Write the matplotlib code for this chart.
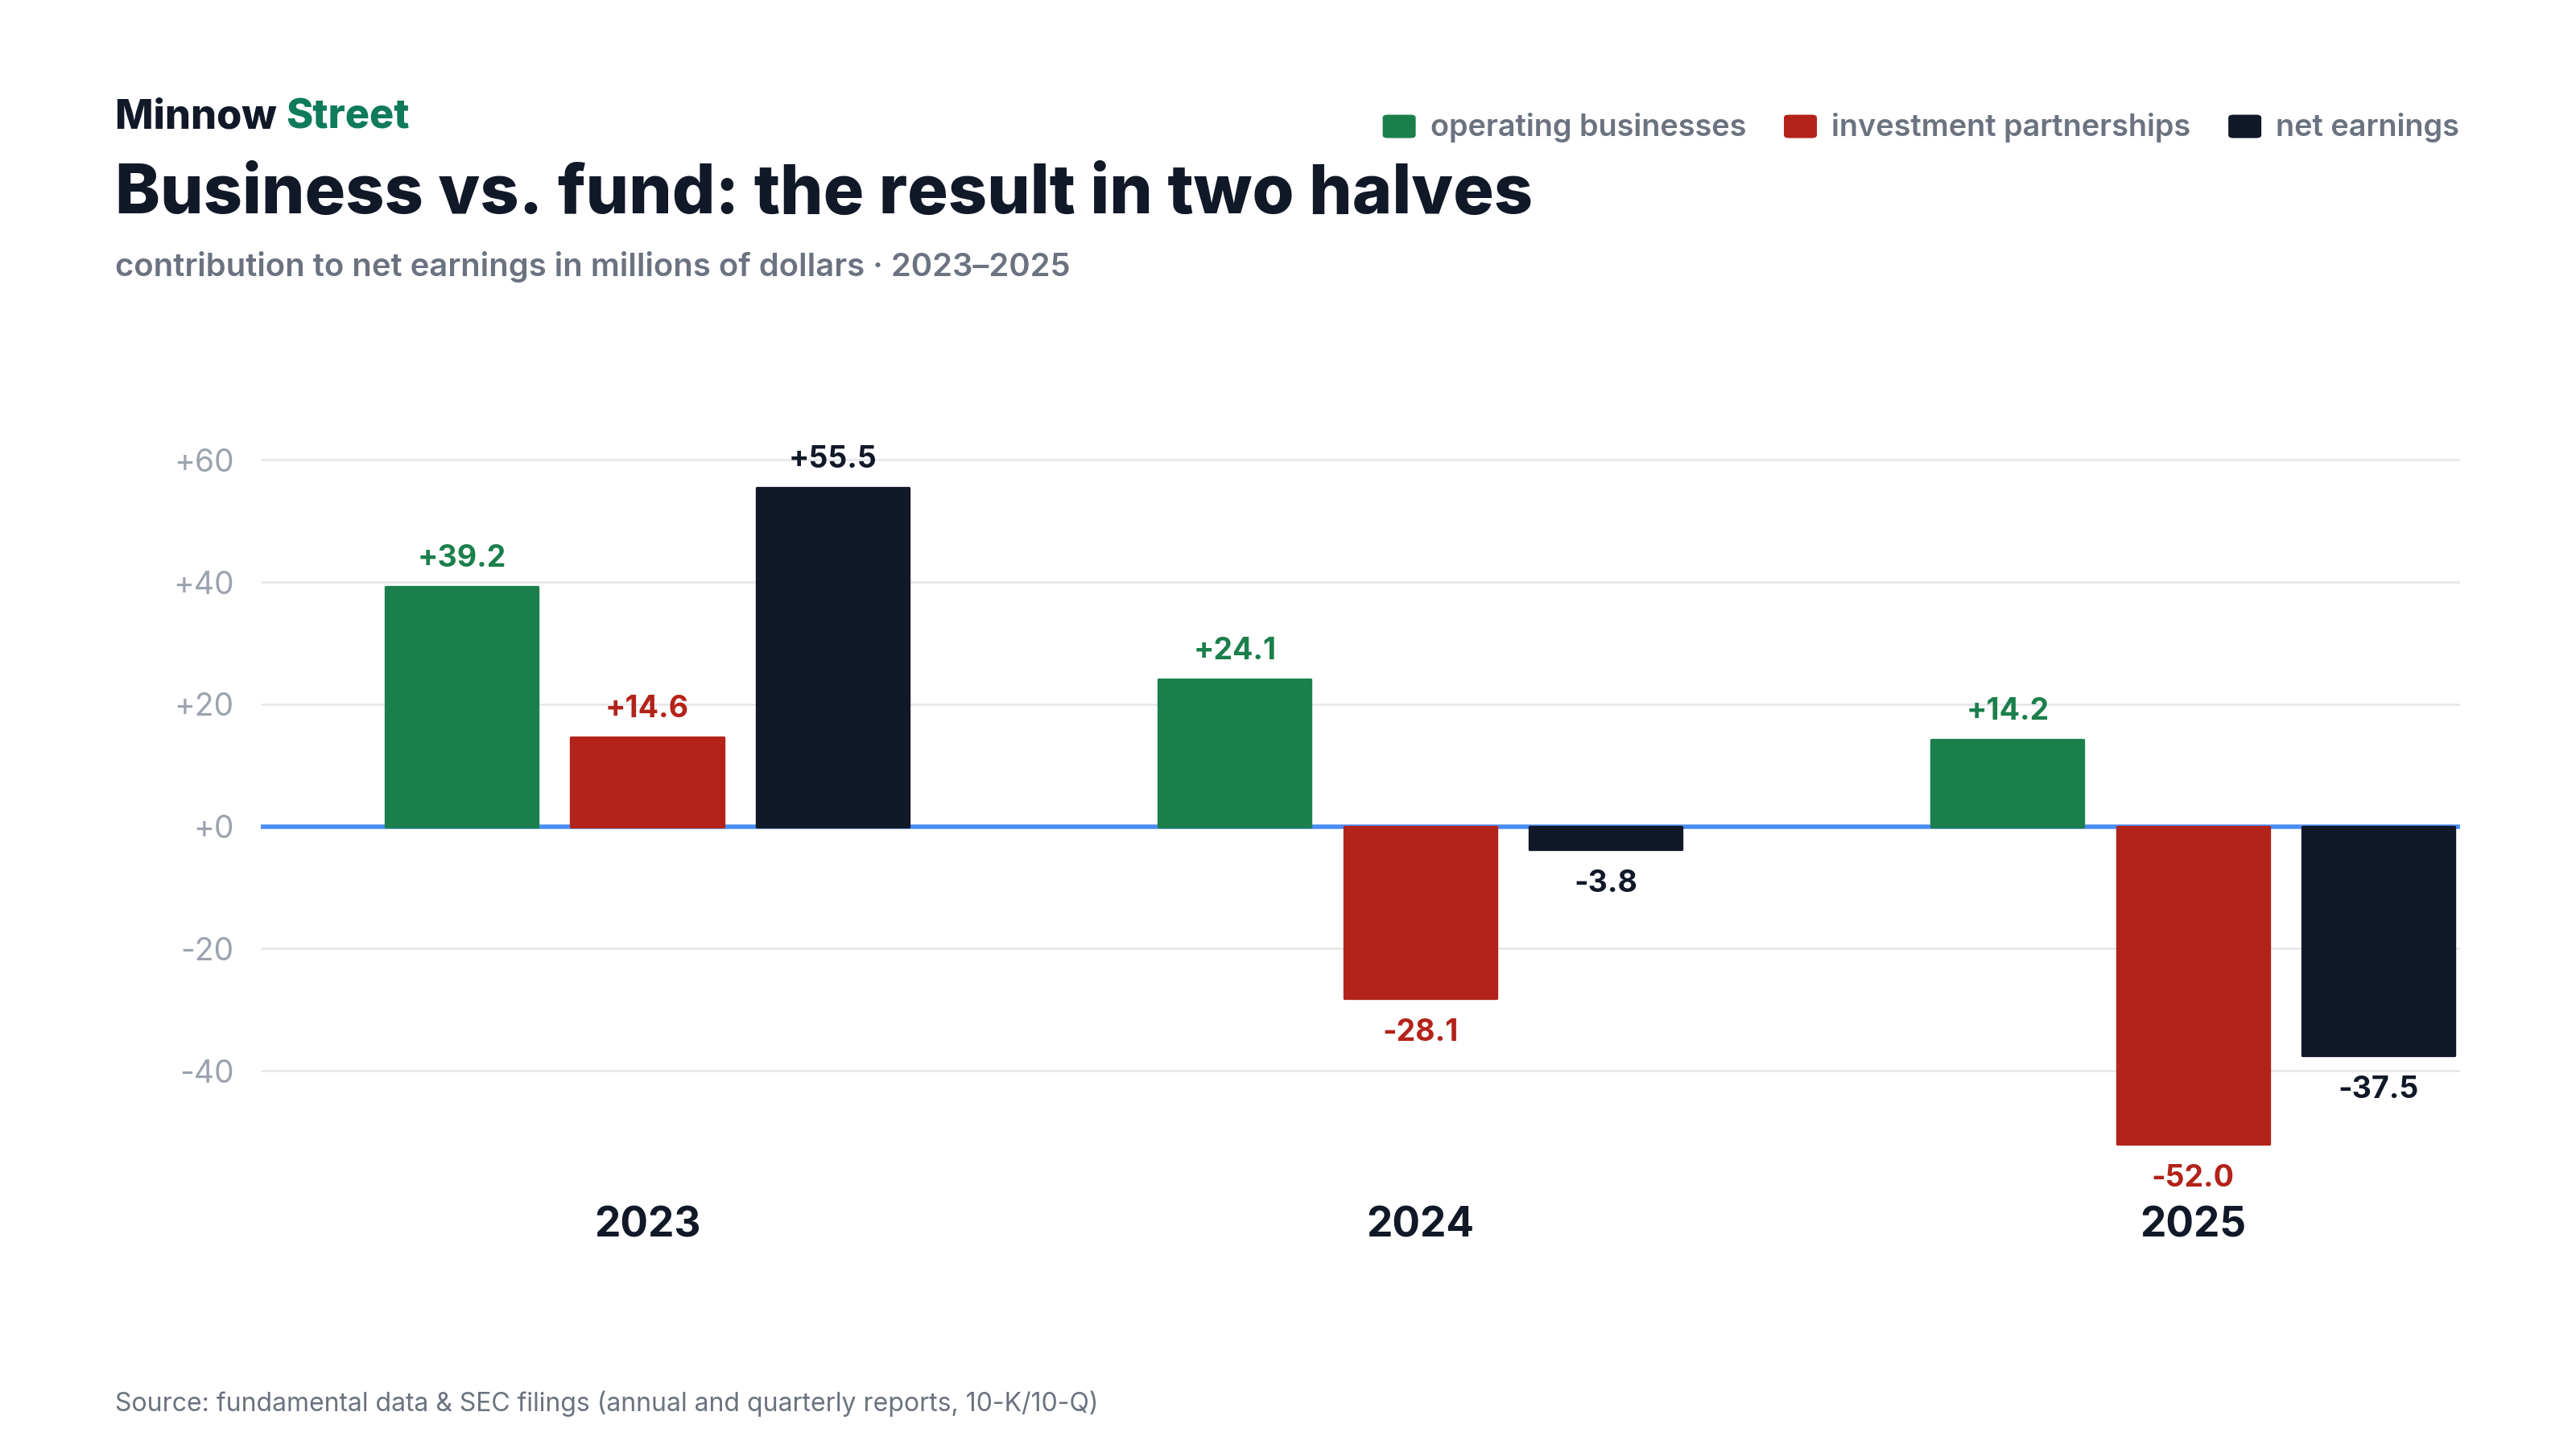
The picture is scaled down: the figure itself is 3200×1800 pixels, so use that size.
import matplotlib
matplotlib.use('Agg')
import matplotlib.pyplot as plt
from matplotlib.patches import FancyBboxPatch
import numpy as np

# ---- data ----
years = ['2023', '2024', '2025']
series_names = ['operating businesses', 'investment partnerships', 'net earnings']
operating = [39.2, 24.1, 14.2]
investment = [14.6, -28.1, -52.0]
net_earnings = [55.5, -3.8, -37.5]
y_ticks = [-40, -20, 0, 20, 40, 60]

GREEN = '#1b7f4c'
RED = '#b3231a'
DARK = '#111827'
BRAND_GREEN = '#0f7b5b'
GRAY_TXT = '#6b7280'
TICK_TXT = '#9ca3af'
GRID = '#e5e7eb'
ZERO = '#4b8df8'

plt.rcParams['font.family'] = ['Inter', 'DejaVu Sans']

W, H = 3200, 1800
fig = plt.figure(figsize=(16, 9), dpi=200)
fig.patch.set_facecolor('white')

def fx(px):
    return px / W

def fy(py):
    return 1 - py / H

# axes: left 326px, right 3055px, bottom 1482px, top 511px
ax = fig.add_axes([fx(324), fy(1481.8), fx(3055.5) - fx(324), (1481.8 - 510.7) / H])
ax.set_xlim(-0.5, 2.345)
ax.set_ylim(-60, 68)

x = np.arange(len(years))
width = 0.2
offsets = [-0.24, 0.0, 0.24]
colors = [GREEN, RED, DARK]
all_series = [operating, investment, net_earnings]

for vals, off, col in zip(all_series, offsets, colors):
    bars = ax.bar(x + off, vals, width * 0.985, color=col, edgecolor=col,
                  linewidth=1.2, joinstyle='round', zorder=3)
    for b, v in zip(bars, vals):
        cx = b.get_x() + b.get_width() / 2
        lbl = f'{v:+.1f}'
        if v >= 0:
            ax.annotate(lbl, (cx, v), xytext=(0, 12.5), textcoords='offset points',
                        ha='center', va='center', fontsize=13.5, fontweight='bold',
                        color=col, zorder=5)
        else:
            ax.annotate(lbl, (cx, v), xytext=(0, -15.5), textcoords='offset points',
                        ha='center', va='center', fontsize=13.5, fontweight='bold',
                        color=col, zorder=5)

# grid
for t in y_ticks:
    if t == 0:
        ax.axhline(0, color=ZERO, lw=2.0, zorder=2)
    else:
        ax.axhline(t, color=GRID, lw=0.9, zorder=1)

ax.set_yticks(y_ticks)
ax.set_yticklabels([f'{t:+d}' if t != 0 else '+0' for t in y_ticks])
ax.tick_params(axis='y', length=0, pad=12, labelsize=14, labelcolor=TICK_TXT)
ax.set_xticks(x)
ax.set_xticklabels(years)
ax.tick_params(axis='x', length=0, pad=6, labelsize=18.5, labelcolor=DARK)
for lab in ax.get_xticklabels():
    lab.set_fontweight('bold')
for s in ax.spines.values():
    s.set_visible(False)
ax.set_facecolor('none')

renderer = fig.canvas.get_renderer()

def width_px(t):
    return t.get_window_extent(renderer=renderer).width

def fit(t, target):
    w = width_px(t)
    t.set_fontsize(t.get_fontsize() * target / w)

# brand
b1 = fig.text(fx(143), fy(160), 'Minnow ', fontsize=20, fontweight='heavy', color=DARK, va='baseline')
b2_probe = fig.text(0, 0, 'Minnow Street', fontsize=20, fontweight='heavy')
scale = 365 / width_px(b2_probe)
b2_probe.remove()
b1.set_fontsize(20 * scale)
b2 = fig.text(fx(143 + width_px(b1)), fy(160), 'Street', fontsize=20 * scale,
              fontweight='heavy', color=BRAND_GREEN, va='baseline')

# title
title = fig.text(fx(143), fy(265), 'Business vs. fund: the result in two halves',
                 fontsize=32, fontweight='heavy', color=DARK, va='baseline')
fit(title, 1760)

# subtitle
sub = fig.text(fx(143), fy(343), 'contribution to net earnings in millions of dollars \u00b7 2023\u20132025',
               fontsize=14, fontweight='semibold', color=GRAY_TXT, va='baseline')
fit(sub, 1186)

# source
src = fig.text(fx(143), fy(1753), 'Source: fundamental data & SEC filings (annual and quarterly reports, 10-K/10-Q)',
               fontsize=12.5, color=GRAY_TXT, va='baseline')
fit(src, 1223)

# legend (right aligned at 3055)
leg_fs = 13.5
sq_w, sq_h = 41, 29
gap_sq_txt = 18
gap_item = 47
right = 3055
texts = []
for name in series_names:
    t = fig.text(0, 0, name, fontsize=leg_fs, fontweight='semibold', color=GRAY_TXT, va='baseline')
    texts.append(t)
txt_total = sum(width_px(t) for t in texts)
target_txt = (3055 - 1716) - 3 * (sq_w + gap_sq_txt) - 2 * gap_item
for t in texts:
    t.set_fontsize(leg_fs * target_txt / txt_total)
cur = right
for name, t, col in reversed(list(zip(series_names, texts, colors))):
    tw = width_px(t)
    t.set_position((fx(cur - tw), fy(169)))
    cur -= tw + gap_sq_txt
    sq = FancyBboxPatch((fx(cur - sq_w), fy(157 + sq_h / 2)), fx(sq_w), sq_h / H,
                        boxstyle='round,pad=0,rounding_size=0.002', transform=fig.transFigure,
                        facecolor=col, edgecolor='none')
    fig.patches.append(sq)
    cur -= sq_w + gap_item

fig.savefig('out.png', dpi=200, facecolor='white')
